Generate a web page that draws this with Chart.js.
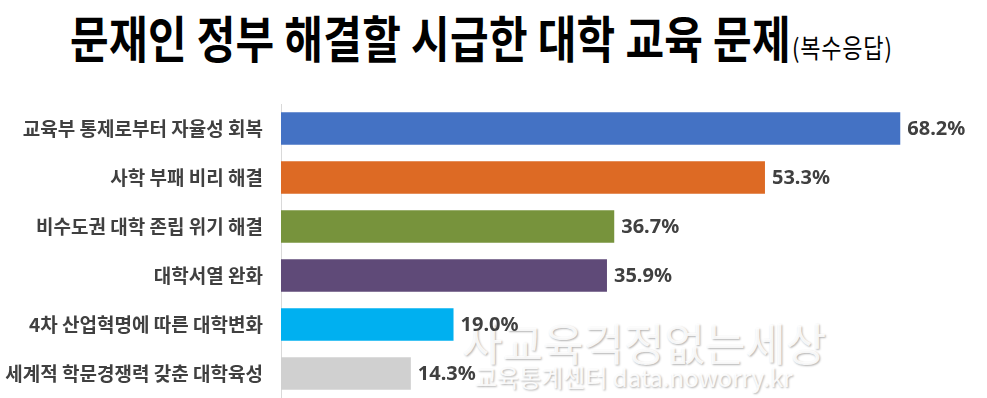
<!DOCTYPE html>
<html>
  <head>
    <title>문재인 정부 해결할 시급한 대학 교육 문제</title>
    <style>
      body { margin: 0; background: #fff; }
      #wrap { position: relative; width: 987px; height: 398px; overflow: hidden; }
      #box { position: absolute; left: 0; top: 0; width: 987px; height: 398px; z-index: 2; }
      #title {
        position: absolute; left: 70px; top: 0px; white-space: nowrap;
        font-family: "Noto Sans CJK KR", sans-serif; font-weight: bold;
        font-size: 42px; color: #000; letter-spacing: 0.3px;
        transform: scaleY(1.18); transform-origin: 0 0;
      }
      #title small { font-size: 22px; font-weight: normal; margin-left: 1px; letter-spacing: 0.8px; }
      .wm {
        position: absolute; white-space: nowrap; color: rgba(255,255,255,0.9);
        font-family: "Noto Sans CJK KR", sans-serif; z-index: 1;
        text-shadow: 1px 1px 2px rgba(0,0,0,0.3);
      }
      #wm1 { left: 462px; top: 310px; font-size: 44px; letter-spacing: 0px; }
      #wm2 { left: 475px; top: 359px; font-size: 24px; }
    </style>
  </head>
  <body>
    <div id="wrap">
      <div class="wm" id="wm1">사교육걱정없는세상</div>
      <div class="wm" id="wm2">교육통계센터 data.noworry.kr</div>
      <div id="box"><canvas id="canvas"></canvas></div>
      <div id="title">문재인 정부 해결할 시급한 대학 교육 문제<small>(복수응답)</small></div>
    </div>

    <script src="https://cdn.jsdelivr.net/npm/chart.js@4/dist/chart.umd.min.js"></script>
    <script>
      // data
      const categories = [
        "교육부 통제로부터 자율성 회복",
        "사학 부패 비리 해결",
        "비수도권 대학 존립 위기 해결",
        "대학서열 완화",
        "4차 산업혁명에 따른 대학변화",
        "세계적 학문경쟁력 갖춘 대학육성",
      ];
      const values = [68.2, 53.3, 36.7, 35.9, 19.0, 14.3];
      const barColors = ["#4472C4", "#DD6A24", "#77933C", "#5F4A78", "#00B0F0", "#D0D0D0"];

      // value labels at bar end
      const valueLabels = {
        id: "valueLabels",
        afterDatasetsDraw(chart) {
          const ctx = chart.ctx;
          const meta = chart.getDatasetMeta(0);
          ctx.save();
          ctx.font = "bold 20px 'Noto Sans', 'Noto Sans CJK KR', sans-serif";
          ctx.fillStyle = "#404040";
          ctx.textAlign = "left";
          ctx.textBaseline = "middle";
          meta.data.forEach((bar, i) => {
            ctx.fillText(values[i].toFixed(1) + "%", bar.x + 7, bar.y + 1);
          });
          ctx.restore();
        },
      };

      const ctx = document.getElementById("canvas").getContext("2d");
      const chart = new Chart(ctx, {
        type: "bar",
        data: {
          labels: categories,
          datasets: [
            {
              data: values,
              backgroundColor: barColors,
              barPercentage: 0.66,
              categoryPercentage: 1,
            },
          ],
        },
        options: {
          indexAxis: "y",
          responsive: true,
          maintainAspectRatio: false,
          animation: false,
          layout: { padding: { top: 104, right: 25, bottom: 0, left: 0 } },
          plugins: { legend: { display: false }, tooltip: { enabled: false } },
          scales: {
            x: { display: false, min: 0, max: 75 },
            y: {
              afterFit(scale) {
                scale.width = 281;
                scale.paddingTop = 0;
                scale.paddingBottom = 0;
              },
              grid: { display: false, drawTicks: false },
              border: { display: true, color: "#d9d9d9", width: 1 },
              ticks: {
                padding: 18,
                color: "#404040",
                font: { family: "'Noto Sans CJK KR', sans-serif", size: 19, weight: "bold" },
              },
            },
          },
        },
        plugins: [valueLabels],
      });
    </script>
  </body>
</html>
